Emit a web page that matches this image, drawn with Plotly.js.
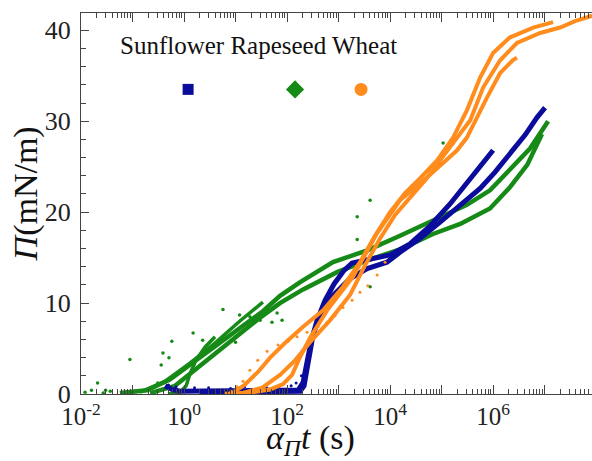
<!DOCTYPE html>
<html>
<head>
<meta charset="utf-8">
<script src="https://cdn.plot.ly/plotly-3.0.1.min.js"></script>
<style>html,body{margin:0;padding:0;background:#fff;}#chart{width:592px;height:461px;}</style>
</head>
<body>
<div id="chart"></div>
<script>
// ---- Data ----
// Rapeseed (green)
const rapeA_x = [0.057, 0.19, 0.53, 1.2, 3.2, 12, 34, 73, 180, 780, 3600, 15600, 68000, 3.1e5, 8.7e5, 2.1e6, 5.2e6, 1.17e7];
const rapeA_y = [0.1, 0.4, 1.6, 3.1, 4.8, 7.3, 9.1, 10.8, 12.3, 14.5, 15.8, 17.4, 19.1, 20.8, 22.4, 24.6, 27.0, 30.0];
const rapeB_x = [0.22, 0.67, 2.05, 7.8, 30, 73, 205, 935, 4100, 15600, 68000, 2.3e5, 8.7e5, 2.1e6, 4.6e6, 8.9e6];
const rapeB_y = [0.1, 0.9, 3.1, 5.8, 8.4, 10.0, 11.5, 13.4, 14.8, 15.9, 17.6, 18.7, 20.4, 22.7, 25.2, 28.6];
const rapeC_x = [0.14, 0.43, 1.3, 4.0, 12, 34];
const rapeC_y = [0.2, 1.4, 3.4, 5.6, 8.0, 10.1];
const rapeD_x = [0.49, 0.84, 1.1, 1.3, 1.7, 2.6, 4.0];
const rapeD_y = [0.0, 0.2, 0.9, 2.2, 3.7, 5.2, 6.3];
const rapeDots_x = [0.012, 0.016, 0.021, 0.027, 0.03, 0.037, 0.071, 0.089, 0.11, 0.31, 0.36, 0.39, 0.51, 0.58, 1.5, 2.3, 5.7, 10, 12, 19, 30, 51, 64, 80, 2300, 2300, 4100, 4100, 1.07e5];
const rapeDots_y = [0.2, 0.4, 1.2, 0.1, 0.4, 0.3, 0.2, 3.8, 0.3, 1.2, 3.2, 4.5, 4.0, 5.8, 6.7, 5.9, 9.3, 5.7, 8.7, 8.5, 8.1, 7.9, 8.9, 8.1, 19.5, 17.0, 21.3, 11.8, 27.6];

// Sunflower (blue)
const sunA_x = [0.43, 0.58, 0.84, 5.0, 30, 164, 205, 244, 292, 383, 547, 818, 1280, 1830, 4100, 10000, 24400, 60000, 1.46e5, 3.0e5, 5.6e5, 1.0e6];
const sunA_y = [0.9, 0.5, 0.3, 0.4, 0.4, 0.4, 1.3, 3.5, 5.7, 8.1, 10.3, 12.1, 13.6, 14.4, 14.8, 15.3, 16.5, 18.5, 20.9, 23.1, 25.1, 26.8];
const sunB_x = [2.05, 19, 180, 214, 256, 320, 437, 625, 1070, 1670, 3600, 8700, 15600, 38000, 93500, 2.3e5, 5.6e5, 1.09e6, 2.1e6, 4.2e6, 7.1e6, 1.02e7];
const sunB_y = [0.2, 0.2, 0.3, 0.9, 3.1, 6.5, 8.7, 10.3, 11.6, 12.7, 13.8, 14.5, 15.6, 17.1, 18.9, 20.8, 22.6, 24.4, 26.3, 28.5, 30.4, 31.5];
const sunDots_x = [0.5, 0.7, 1.6, 3.0, 8.0, 15, 40, 70, 120, 150, 190];
const sunDots_y = [1.0, 0.8, 0.7, 0.7, 0.6, 0.8, 0.7, 0.6, 0.9, 1.2, 2.0];

// Wheat (orange)
const wheatA_x = [6.3, 22, 47, 84, 125, 180, 280, 600, 1910, 5600, 15600, 52000, 2.0e5, 3.1e5, 7.6e5, 1.37e6, 2.4e6, 2.9e6];
const wheatA_y = [0.0, 0.2, 0.5, 1.1, 2.1, 4.1, 6.2, 9.2, 12.9, 17.7, 21.3, 23.8, 26.8, 28.2, 32.6, 35.3, 36.7, 37.0];
const wheatB_x = [8.6, 15, 27, 47, 91, 205, 500, 1220, 2600, 5100, 10000, 19500, 38000, 82000, 1.67e5, 3.1e5, 5.6e5, 1.0e6, 2.1e6, 6.0e6, 1.46e7];
const wheatB_y = [0.1, 1.0, 2.4, 4.0, 5.6, 7.4, 9.2, 11.8, 14.5, 17.4, 20.0, 22.1, 23.7, 25.7, 28.2, 31.2, 34.8, 37.5, 39.2, 40.3, 40.9];
const wheatC_x = [12, 33, 73, 143, 280, 680, 1670, 3300, 6400, 12500, 24400, 48000, 93500, 1.83e5, 3.6e5, 6.4e5, 1.37e6, 2.9e6, 8.2e6, 2.0e7, 3.9e7, 8.4e7];
const wheatC_y = [0.0, 0.7, 2.1, 3.7, 5.7, 8.1, 10.9, 14.2, 17.1, 19.7, 21.6, 23.5, 25.7, 27.9, 30.1, 33.7, 36.7, 38.6, 39.7, 40.3, 41.0, 41.6];
const wheatDots_x = [6.5, 8.2, 10.7, 14, 19, 27, 41, 67, 105, 156, 244, 400, 600, 855, 1220, 1830, 2600, 3700, 5600, 8000];
const wheatDots_y = [0.1, 0.3, 0.8, 1.4, 2.6, 3.7, 4.7, 5.4, 5.8, 6.3, 6.8, 7.4, 7.9, 8.6, 9.5, 10.3, 11.2, 11.9, 13.1, 14.5];

// Legend
const legendNames = ['Sunflower', 'Rapeseed', 'Wheat'];
const legendX = [1.2, 143, 2735];
const legendY = [33.5, 33.5, 33.5];

const xTickVals = [0.01, 0.1, 1, 10, 100, 1e3, 1e4, 1e5, 1e6, 1e7];
const xTickText = ['10<sup>-2</sup>', '', '10<sup>0</sup>', '', '10<sup>2</sup>', '', '10<sup>4</sup>', '', '10<sup>6</sup>', ''];

// ---- Styles ----
const BLUE = '#0c0c9c', GREEN = '#168a16', ORANGE = '#ff8c1c';
const serif = 'Liberation Serif';

function line(x, y, c, w) {
  return {x: x, y: y, type: 'scatter', mode: 'lines', line: {color: c, width: w}, showlegend: false, hoverinfo: 'skip'};
}
function dots(x, y, c, s) {
  return {x: x, y: y, type: 'scatter', mode: 'markers', marker: {color: c, size: s}, showlegend: false, hoverinfo: 'skip'};
}

const traces = [
  dots(rapeDots_x, rapeDots_y, GREEN, 3.5),
  line(rapeA_x, rapeA_y, GREEN, 4.5),
  line(rapeB_x, rapeB_y, GREEN, 4.5),
  line(rapeC_x, rapeC_y, GREEN, 3.5),
  line(rapeD_x, rapeD_y, GREEN, 3.5),
  dots(sunDots_x, sunDots_y, BLUE, 3),
  line(sunA_x, sunA_y, BLUE, 5),
  line(sunB_x, sunB_y, BLUE, 5),
  dots(wheatDots_x, wheatDots_y, ORANGE, 3),
  line(wheatA_x, wheatA_y, ORANGE, 4),
  line(wheatB_x, wheatB_y, ORANGE, 4),
  line(wheatC_x, wheatC_y, ORANGE, 4),
  {x: [legendX[0]], y: [legendY[0]], type: 'scatter', mode: 'markers', marker: {color: BLUE, size: 11, symbol: 'square'}, showlegend: false, hoverinfo: 'skip'},
  {x: [legendX[1]], y: [legendY[1]], type: 'scatter', mode: 'markers', marker: {color: GREEN, size: 14, symbol: 'diamond'}, showlegend: false, hoverinfo: 'skip'},
  {x: [legendX[2]], y: [legendY[2]], type: 'scatter', mode: 'markers', marker: {color: ORANGE, size: 13, symbol: 'circle'}, showlegend: false, hoverinfo: 'skip'}
];

const layout = {
  width: 592, height: 461,
  margin: {l: 81, r: 0, t: 13, b: 67},
  paper_bgcolor: '#fff', plot_bgcolor: '#fff',
  showlegend: false,
  font: {family: serif, color: '#222', size: 24},
  xaxis: {
    type: 'log', range: [-2, 7.92],
    tickmode: 'array', tickvals: xTickVals, ticktext: xTickText,
    ticks: 'inside', ticklen: 9, tickcolor: '#444', tickwidth: 1,
    minor: {dtick: 'D1', ticks: 'inside', ticklen: 5, tickcolor: '#444'},
    showline: true, linecolor: '#444', linewidth: 1, mirror: 'ticks',
    showgrid: false, zeroline: false,
    tickfont: {family: serif, size: 25, color: '#222'}
  },
  yaxis: {
    range: [0, 41.9], dtick: 10, tick0: 0,
    ticks: 'inside', ticklen: 8, tickcolor: '#444',
    minor: {dtick: 2, ticks: 'inside', ticklen: 5, tickcolor: '#444'},
    showline: true, linecolor: '#444', linewidth: 1,
    showgrid: false, zeroline: false, ticklabelstandoff: 4,
    tickfont: {family: serif, size: 26, color: '#222'}
  },
  annotations: [
    {text: legendNames.join(' '), xref: 'paper', yref: 'paper', x: 0.348, y: 0.916, showarrow: false,
     font: {family: serif, size: 25, color: '#111'}, xanchor: 'center', yanchor: 'middle'},
    {text: '<i>Π</i>(mN/m)', xref: 'paper', yref: 'paper', x: -0.108, y: 0.526, showarrow: false, textangle: -90,
     font: {family: serif, size: 34, color: '#111'}, xanchor: 'center', yanchor: 'middle'},
    {text: '<i>α</i><sub><i>Π</i></sub><i>t</i> (s)', xref: 'paper', yref: 'paper', x: 0.45, y: -0.122, showarrow: false,
     font: {family: serif, size: 34, color: '#111'}, xanchor: 'center', yanchor: 'middle'}
  ]
};

Plotly.newPlot('chart', traces, layout, {staticPlot: true, displayModeBar: false});
</script>
</body>
</html>
